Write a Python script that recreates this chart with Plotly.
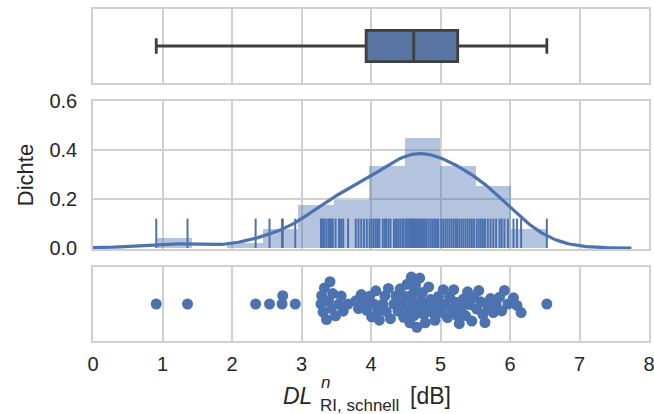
import numpy as np
import plotly.graph_objects as go
from plotly.subplots import make_subplots

# ---- data ----
values = [
    0.91, 1.36,
    2.34,
    2.54, 2.72, 2.73, 2.91,
    3.28, 3.29, 3.31, 3.33, 3.36, 3.39, 3.41, 3.43, 3.45,
    3.49, 3.54, 3.57, 3.60, 3.67, 3.78, 3.82, 3.86, 3.90, 3.94,
    3.98, 4.01, 4.04, 4.07, 4.10, 4.12, 4.17, 4.20, 4.22, 4.25, 4.28, 4.33, 4.36, 4.39, 4.42, 4.45, 4.47,
    4.50, 4.52, 4.54, 4.56, 4.58, 4.60, 4.61, 4.62, 4.64, 4.66, 4.68, 4.70, 4.72, 4.74, 4.76, 4.78, 4.80,
    4.83, 4.86, 4.89, 4.92, 4.95, 4.97,
    5.01, 5.04, 5.07, 5.10, 5.13, 5.16, 5.19, 5.22, 5.24, 5.27, 5.30, 5.33, 5.36, 5.39, 5.42, 5.45, 5.48,
    5.52, 5.55, 5.58, 5.61, 5.64, 5.68, 5.72, 5.76, 5.80, 5.85, 5.88, 5.92, 5.97,
    6.05, 6.10, 6.16, 6.53,
]
n_bins = 11
x_ticks = [0, 1, 2, 3, 4, 5, 6, 7, 8]
y_ticks = [0.0, 0.2, 0.4, 0.6]
y_label = "Dichte"

# ---- styling ----
W, H = 654, 414
ML, MR, MT, MB = 93, 5, 9, 73
BLUE = "#4c72b0"
BOXFILL = "#5875a4"
BOXLINE = "#3f3f3f"
GRID = "#d0d0d0"
TXT = "#262626"
FONT = "Liberation Sans, Arial, sans-serif"

v = np.array(values)

# histogram (density)
dens, edges = np.histogram(v, bins=n_bins, density=True)
centers = 0.5 * (edges[:-1] + edges[1:])
bw_bin = edges[1] - edges[0]

# KDE (gaussian, Scott's rule), extended by 3 bandwidths
bw = v.std(ddof=1) * len(v) ** (-1 / 5)
gx = np.linspace(v.min() - 3 * bw, v.max() + 3 * bw, 300)
gy = np.exp(-0.5 * ((gx[:, None] - v[None, :]) / bw) ** 2).sum(axis=1) / (len(v) * bw * np.sqrt(2 * np.pi))

# rug segments
rug_h = 0.12
rx, ry = [], []
for val in v:
    rx += [val, val, None]
    ry += [0, rug_h, None]

# box statistics (whiskers to min / max)
q1, med, q3 = np.percentile(v, [25, 50, 75])

# swarm layout in pixel space
plot_w = W - ML - MR
px_per_unit = plot_w / 8.0
D = 8.3
xs = v * px_per_unit
sw = np.zeros(len(v))
placed = []
for i in np.argsort(xs):
    x = xs[i]
    nb = [(a, b) for a, b in placed if abs(a - x) < D]
    cands = [0.0]
    for a, b in nb:
        dy = np.sqrt(D * D - (a - x) ** 2)
        cands += [b + dy, b - dy]
    cands.sort(key=abs)
    for c in cands:
        if all((a - x) ** 2 + (b - c) ** 2 >= D * D - 1e-6 for a, b in nb):
            sw[i] = c
            break
    placed.append((x, sw[i]))

plot_h = H - MT - MB
def ydom(top_px, bot_px):
    return [(H - MB - bot_px) / plot_h, (H - MB - top_px) / plot_h]

fig = make_subplots(rows=3, cols=1, shared_xaxes=False, vertical_spacing=0.0)

fig.add_trace(go.Box(
    q1=[q1], median=[med], q3=[q3], lowerfence=[v.min()], upperfence=[v.max()],
    y=[0], orientation="h", width=0.42, whiskerwidth=0.5,
    fillcolor=BOXFILL, line=dict(color=BOXLINE, width=2.8), showlegend=False,
    hoverinfo="skip"), row=1, col=1)

fig.add_trace(go.Bar(x=centers, y=dens, width=bw_bin,
    marker=dict(color="rgba(76,114,176,0.42)", line=dict(width=0)),
    showlegend=False), row=2, col=1)
fig.add_trace(go.Scatter(x=rx, y=ry, mode="lines",
    line=dict(color=BLUE, width=2.0), showlegend=False), row=2, col=1)
fig.add_trace(go.Scatter(x=gx, y=gy, mode="lines",
    line=dict(color=BLUE, width=3.2), showlegend=False), row=2, col=1)

fig.add_trace(go.Scatter(x=v, y=sw, mode="markers",
    marker=dict(color=BLUE, size=11, line=dict(width=0)), showlegend=False), row=3, col=1)

axis_common = dict(showline=True, mirror=True, linecolor=GRID, linewidth=1.5,
                   showgrid=True, gridcolor=GRID, gridwidth=1.5, zeroline=False,
                   automargin=False,
                   ticks="", tickfont=dict(family=FONT, size=20, color=TXT))

fig.update_xaxes(range=[0, 8], tickvals=x_ticks, **axis_common)
fig.update_xaxes(showticklabels=False, row=1, col=1)
fig.update_xaxes(showticklabels=False, row=2, col=1)
fig.update_xaxes(ticklabelstandoff=4, ticklabeloverflow="allow", row=3, col=1)

fig.update_yaxes(**axis_common)
fig.update_yaxes(range=[-0.5, 0.5], showticklabels=False, showgrid=False, domain=ydom(9, 83), row=1, col=1)
fig.update_yaxes(range=[-0.004, 0.6], tickvals=y_ticks, tickformat=".1f", ticklabelstandoff=10,
                 domain=ydom(101, 249),
                 title=dict(text=y_label, font=dict(family=FONT, size=22, color=TXT), standoff=10),
                 row=2, col=1)
fig.update_yaxes(range=[-37, 37], showticklabels=False, showgrid=False, domain=ydom(267, 341), row=3, col=1)

def P(px, py):
    return (px - ML) / plot_w, (H - MB - py) / plot_h

anns = []
def add_text(txt, px, py, size, italic=False):
    x, y = P(px, py)
    t = f"<i>{txt}</i>" if italic else txt
    anns.append(dict(text=t, x=x, y=y, xref="paper", yref="paper", xanchor="left",
                     yanchor="middle", showarrow=False,
                     font=dict(family=FONT, size=size, color=TXT)))

add_text("DL", 281, 396, 23, italic=True)
add_text("n", 319, 382, 17, italic=True)
add_text("RI, schnell", 318, 405, 17)
add_text("[dB]", 408, 396, 23)
fig.update_layout(annotations=anns)

fig.update_layout(width=W, height=H, margin=dict(l=ML, r=MR, t=MT, b=MB, autoexpand=False),
                  plot_bgcolor="white", paper_bgcolor="white",
                  font=dict(family=FONT, color=TXT), bargap=0)

fig.write_html("out.html", config={"displayModeBar": False},
               post_script="document.body.style.margin='0';document.body.style.overflow='hidden';")
